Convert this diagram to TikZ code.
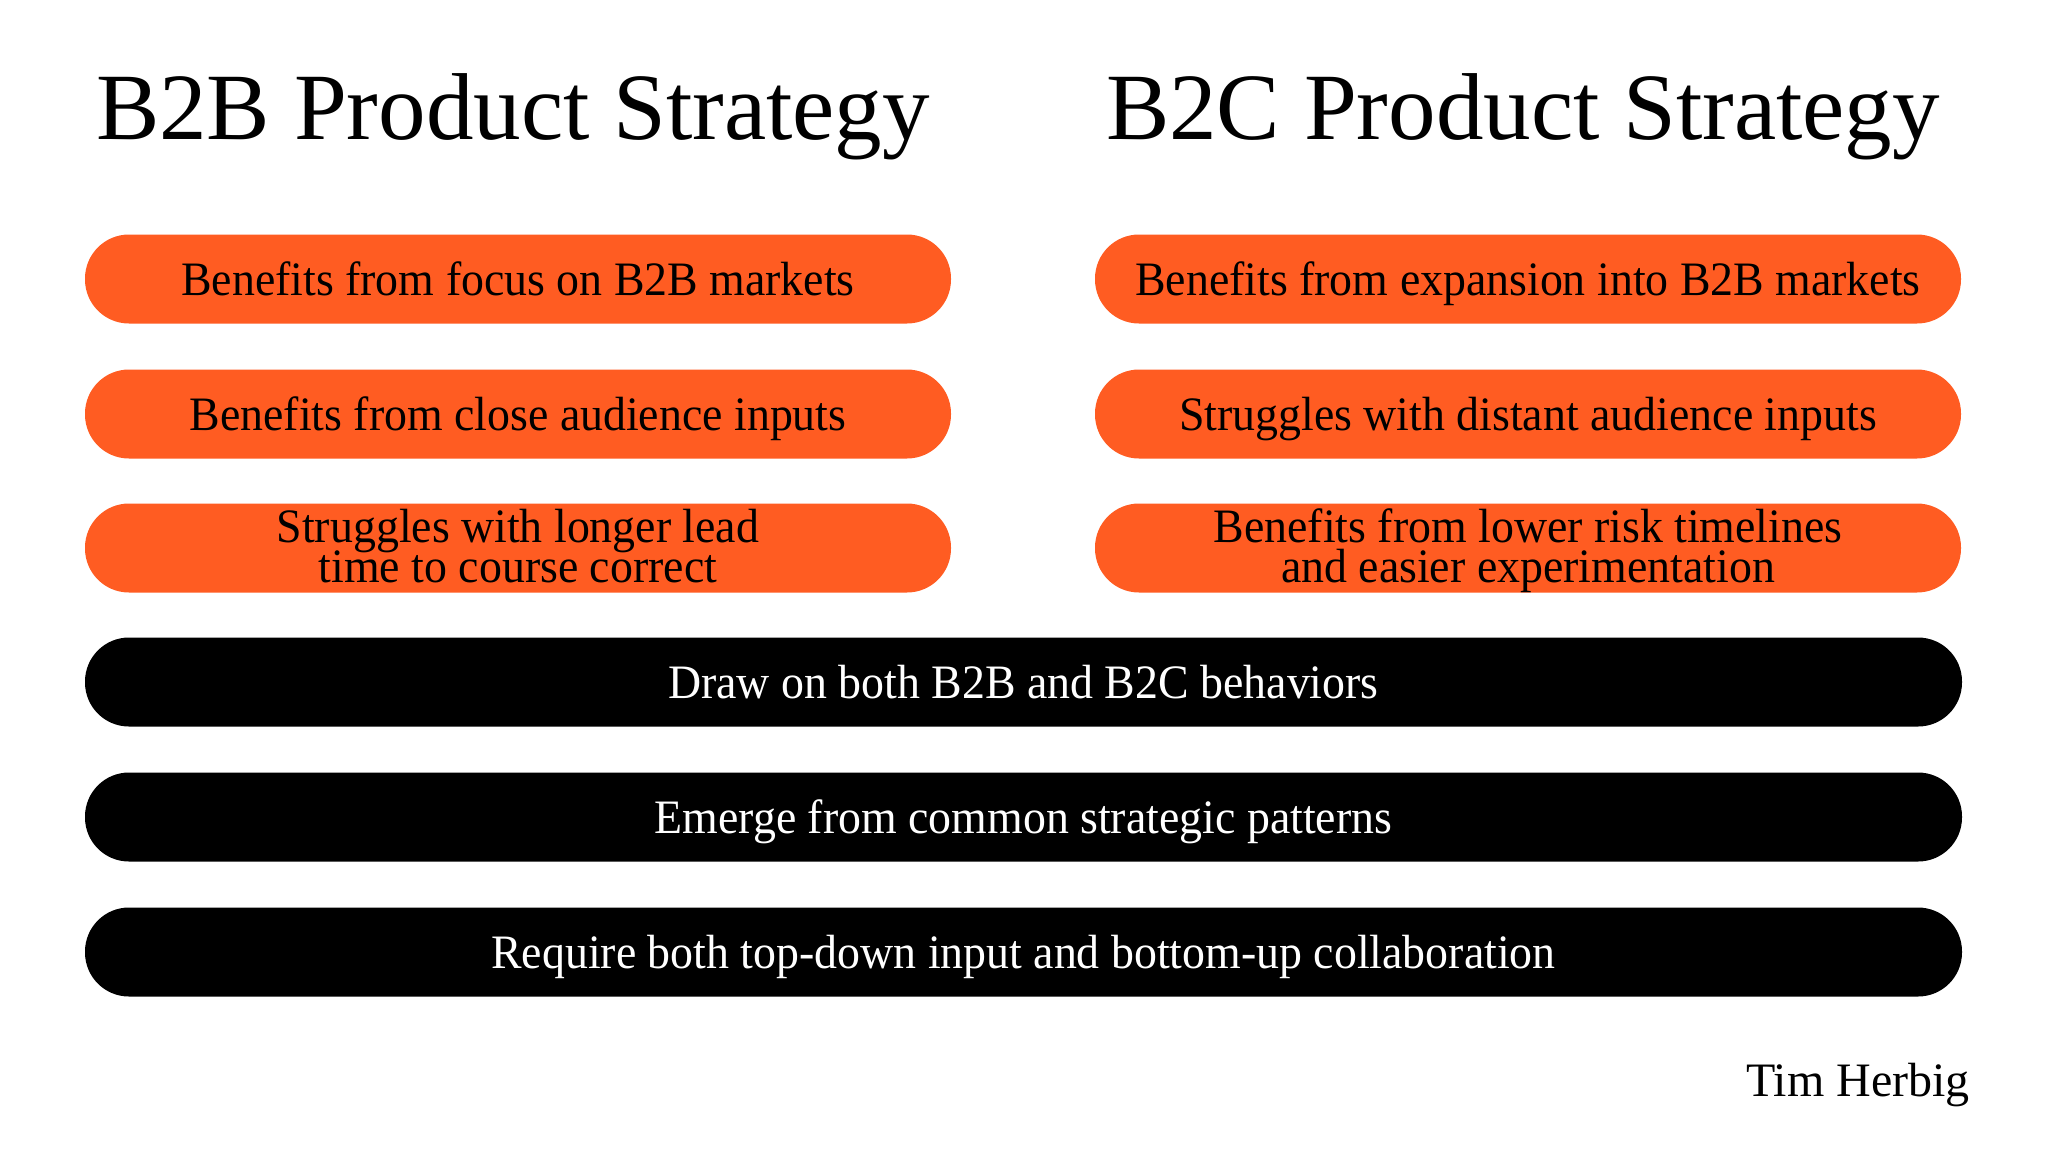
\documentclass[tikz,border=0pt]{standalone}
\usepackage{fontspec}
\setmainfont{Liberation Serif}
\newfontfamily\pillfont[FakeStretch=0.955]{Liberation Serif}
\definecolor{pillorange}{HTML}{FF5C22}
\begin{document}
\begin{tikzpicture}[x=1pt,y=-1pt,
  title/.style={anchor=base, inner sep=0pt, font=\fontsize{95}{100}\selectfont},
  pillbase/.style={rectangle, rounded corners=44pt, minimum height=89pt, inner sep=0pt},
  orangepill/.style={pillbase, fill=pillorange, minimum width=866pt},
  blackpill/.style={pillbase, fill=black, minimum width=1877pt},
  ptext/.style={anchor=base, inner sep=0pt, font=\pillfont\fontsize{48}{36}\selectfont},
  otext/.style={ptext, text=black},
  btext/.style={ptext, text=white},
  author/.style={anchor=base east, inner sep=0pt, font=\fontsize{48}{50}\selectfont}
]
\useasboundingbox[fill=white] (0,0) rectangle (2048,1152);

\node[title] (t1) at (513,139) {B2B Product Strategy};
\node[title] (t2) at (1523,139) {B2C Product Strategy};

\node[orangepill] (l1) at (518,279) {};
\node[orangepill] (l2) at (518,414) {};
\node[orangepill] (l3) at (518,548) {};
\node[orangepill] (r1) at (1528,279) {};
\node[orangepill] (r2) at (1528,414) {};
\node[orangepill] (r3) at (1528,548) {};
\node[blackpill] (b1) at (1023.5,682) {};
\node[blackpill] (b2) at (1023.5,817) {};
\node[blackpill] (b3) at (1023.5,952) {};

\node[otext] (l1t) at ([yshift=-16pt]l1.center) {Benefits from focus on B2B markets};
\node[otext] (l2t) at ([yshift=-16pt]l2.center) {Benefits from close audience inputs};
\node[otext] (l3t) at ([yshift=6pt]l3.center) {Struggles with longer lead};
\node[otext] (l3u) at ([yshift=-34pt]l3.center) {time to course correct};

\node[otext] (r1t) at ([yshift=-16pt]r1.center) {Benefits from expansion into B2B markets};
\node[otext] (r2t) at ([yshift=-16pt]r2.center) {Struggles with distant audience inputs};
\node[otext] (r3t) at ([yshift=6pt]r3.center) {Benefits from lower risk timelines};
\node[otext] (r3u) at ([yshift=-34pt]r3.center) {and easier experimentation};

\node[btext] (b1t) at ([yshift=-16pt]b1.center) {Draw on both B2B and B2C behaviors};
\node[btext] (b2t) at ([yshift=-16pt]b2.center) {Emerge from common strategic patterns};
\node[btext] (b3t) at ([yshift=-16pt]b3.center) {Require both top-down input and bottom-up collaboration};

\node[author] (a) at (1970,1096) {Tim Herbig};
\end{tikzpicture}
\end{document}
